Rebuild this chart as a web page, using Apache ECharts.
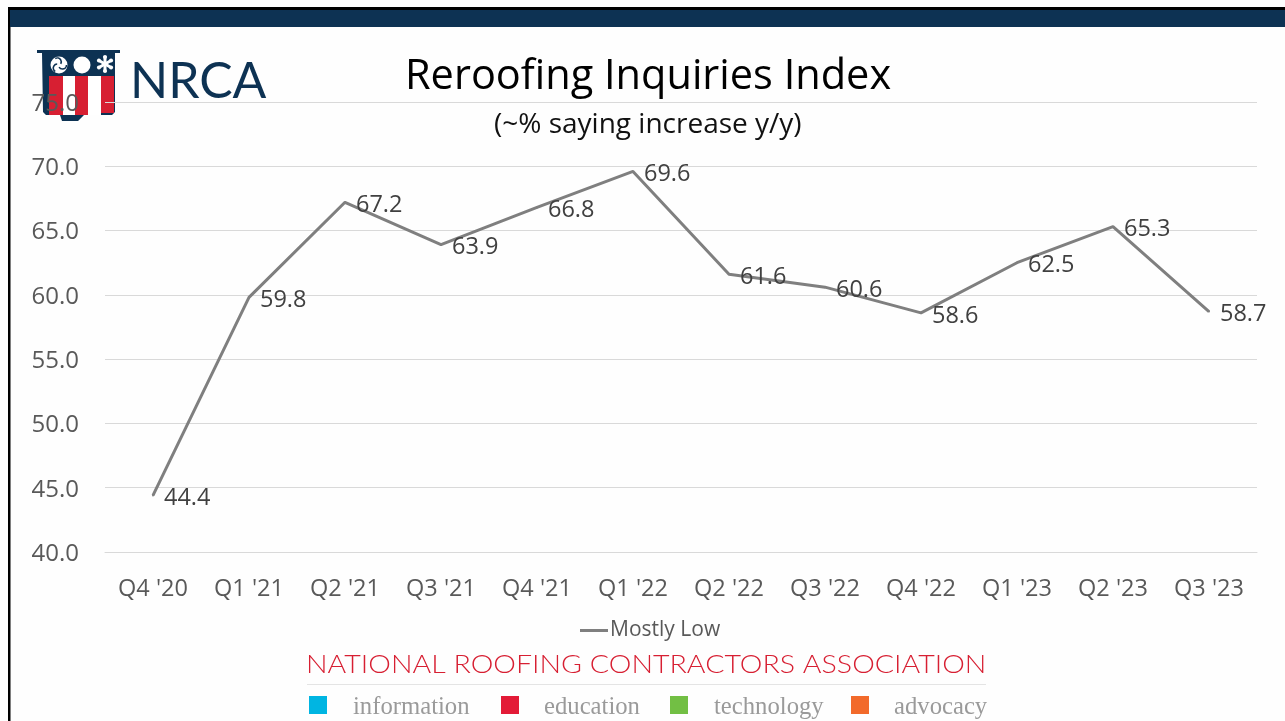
<!DOCTYPE html>
<html><head><meta charset="utf-8">
<style>html,body{margin:0;padding:0;background:#fff}#c{width:1285px;height:721px}</style>
<script src="https://cdn.jsdelivr.net/npm/echarts@6/dist/echarts.min.js"></script>
</head><body><div id="c"></div>
<script>
const categories = ["Q4 '20","Q1 '21","Q2 '21","Q3 '21","Q4 '21","Q1 '22","Q2 '22","Q3 '22","Q4 '22","Q1 '23","Q2 '23","Q3 '23"];
const mostlyLow = [44.4,59.8,67.2,63.9,66.8,69.6,61.6,60.6,58.6,62.5,65.3,58.7];
const seriesName = "Mostly Low";
const titleText = "Reroofing Inquiries Index";
const subtitleText = "(~% saying increase y/y)";
const orgName = "NATIONAL ROOFING CONTRACTORS ASSOCIATION";
const pillars = [["information","#00b5e2",309,353],["education","#e31b37",501,544],["technology","#72bf44",670,714],["advocacy","#f26a2b",851,894]];

const navy = "#0d3253", red = "#d71f32", sans = "'Open Sans'";
const rect = (x,y,w,h,fill,z) => ({type:'rect',z:z===undefined?1:z,shape:{x,y,width:w,height:h},style:{fill}});
const text = (x,y,t,size,fill,family,extra) => ({type:'text',z:5,x,y,style:Object.assign({text:t,fontSize:size,fill,fontFamily:family,textVerticalAlign:'middle'},extra||{})});

const flake = [];
for (let i=0;i<6;i++){
  const a=i*Math.PI/3+Math.PI/6;
  flake.push({type:'line',z:-2,shape:{x1:105,y1:64,x2:105+8*Math.cos(a),y2:64+8*Math.sin(a)},style:{stroke:'#fff',lineWidth:3}});
  flake.push({type:'circle',z:-2,shape:{cx:105+7*Math.cos(a),cy:64+7*Math.sin(a),r:2},style:{fill:'#fff'}});
}
const swirl = [];
for (let i=0;i<3;i++){
  const a=i*2*Math.PI/3;
  swirl.push({type:'arc',z:-2,shape:{cx:59+3.5*Math.cos(a),cy:65+3.5*Math.sin(a),r:4,startAngle:a,endAngle:a+2.6},style:{stroke:navy,lineWidth:1.6,fill:null}});
}

const graphics = [
  rect(8,7,1277,3,'#000',0),
  rect(8,7,2.5,714,'#000',0),
  rect(10,10,1275,17,navy,0),
  // logo
  rect(37,50,83,3,navy,-5),
  {type:'polygon',z:-5,shape:{points:[[42,53],[115,53],[115,112],[112,115],[84,115],[78,121],[62,121],[60,115],[46,115],[43,112]]},style:{fill:navy}},
  rect(49,76,14,39,red,-4),rect(63,76,12,39,'#fff',-4),rect(75,76,13,39,red,-4),rect(88,76,13,39,'#fff',-4),rect(101,76,13,37,red,-4),
  {type:'circle',z:-3,shape:{cx:59,cy:65,r:8.5},style:{fill:'#fff'}},
  {type:'circle',z:-3,shape:{cx:82,cy:65,r:8.5},style:{fill:'#fff'}},
  ...swirl,...flake,
  text(130,82,'NRCA',50,navy,'Lato',{fontWeight:400}),
  // titles
  text(405,77,titleText,41.5,'#000',sans),
  text(494,125,subtitleText,28,'#111',sans),
  // footer
  Object.assign(text(306,665,orgName,26,red,'Lato',{fontWeight:300}),{scaleX:1.099}),
  rect(307,684,679,1,'#e4e4e4'),
  ...pillars.flatMap(p=>[rect(p[2],696,18,18,p[1]),text(p[3],708,p[0],24.7,'#9a9a9a','Liberation Serif')])
];

const chart = echarts.init(document.getElementById('c'));
chart.setOption({
  animation:false,
  backgroundColor:'#fefefe',
  grid:{left:105,right:28,top:102,bottom:169,containLabel:false},
  legend:{show:true,left:575,top:615,itemWidth:28,itemHeight:3,itemGap:0,
    data:[{name:seriesName,icon:'rect'}],
    textStyle:{color:'#595959',fontSize:21,fontFamily:sans,padding:[0,0,0,-3]}},
  xAxis:{type:'category',data:categories,boundaryGap:true,
    axisTick:{show:false},axisLine:{lineStyle:{color:'#d9d9d9',width:1}},
    axisLabel:{color:'#595959',fontSize:23.5,fontFamily:sans,margin:25,interval:0}},
  yAxis:{type:'value',min:40,max:75,interval:5,
    axisLine:{show:false},axisTick:{show:false},
    splitLine:{lineStyle:{color:'#d9d9d9',width:1}},
    axisLabel:{color:'#595959',fontSize:24,fontFamily:sans,margin:26,verticalAlign:'top',lineHeight:4,formatter:v=>v.toFixed(1)}},
  series:[{name:seriesName,type:'line',data:mostlyLow,symbol:'circle',symbolSize:2,showSymbol:true,showAllSymbol:true,
    lineStyle:{color:'#7f7f7f',width:3},itemStyle:{color:'#7f7f7f'},
    label:{show:true,position:'right',distance:10,color:'#404040',fontSize:23.5,fontFamily:sans,offset:[0,3],formatter:p=>p.value.toFixed(1)}}],
  graphic:{elements:graphics}
});
</script></body></html>
